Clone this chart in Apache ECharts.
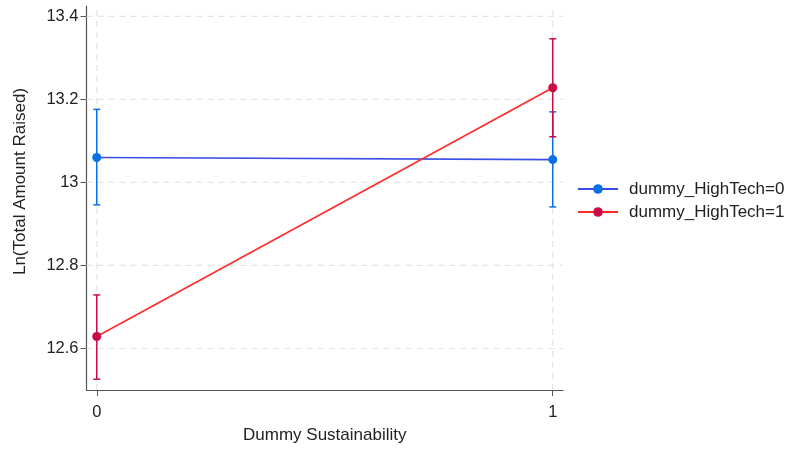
<!DOCTYPE html>
<html><head><meta charset="utf-8">
<script src="https://cdn.jsdelivr.net/npm/echarts@6/dist/echarts.min.js"></script>
<style>html,body{margin:0;padding:0;background:#fff}#c{width:792px;height:449px}</style>
</head><body><div id="c"></div>
<script>
const xValues = [0, 1];
const xTickLabels = ['0', '1'];
const yTicks = [12.6, 12.8, 13, 13.2, 13.4];
const seriesNames = ['dummy_HighTech=0', 'dummy_HighTech=1'];
const mean0 = [13.060, 13.055];
const low0 = [12.946, 12.941];
const high0 = [13.176, 13.170];
const mean1 = [12.629, 13.228];
const low1 = [12.526, 13.110];
const high1 = [12.729, 13.346];

const X_MIN = -0.0225, X_MAX = 1.0225, Y_MIN = 12.5, Y_MAX = 13.425;

const lineColors = ['#3b4fe6', '#ff2b2b'];
const markColors = ['#0b70e8', '#cc0a46'];
const font = 'Liberation Sans, Arial, sans-serif';

function ciSeries(low, high, color) {
  return {
    type: 'custom',
    silent: true,
    z: 3,
    data: xValues.map((x, i) => [x, low[i], high[i]]),
    renderItem: function (params, api) {
      const x = api.value(0);
      const pLo = api.coord([x, api.value(1)]);
      const pHi = api.coord([x, api.value(2)]);
      const w = 3.5;
      const st = { stroke: color, lineWidth: 1.5, fill: null };
      return {
        type: 'group',
        children: [
          { type: 'line', shape: { x1: pLo[0], y1: pLo[1], x2: pHi[0], y2: pHi[1] }, style: st },
          { type: 'line', shape: { x1: pLo[0] - w, y1: pLo[1], x2: pLo[0] + w, y2: pLo[1] }, style: st },
          { type: 'line', shape: { x1: pHi[0] - w, y1: pHi[1], x2: pHi[0] + w, y2: pHi[1] }, style: st }
        ]
      };
    }
  };
}

const gridStyle = { stroke: '#e4e4e4', lineWidth: 1.2, lineDash: [6, 5], fill: null };
const gridData = yTicks.map(v => ['h', v]).concat(xValues.map(v => ['v', v]));

const chart = echarts.init(document.getElementById('c'), null, { renderer: 'canvas' });
chart.setOption({
  animation: false,
  backgroundColor: '#fff',
  grid: { left: 86.5, right: 229, top: 6, bottom: 54, containLabel: false },
  xAxis: {
    type: 'value', min: X_MIN, max: X_MAX,
    name: 'Dummy Sustainability', nameLocation: 'middle', nameGap: 37,
    nameTextStyle: { fontFamily: font, fontSize: 17, color: '#222' },
    axisLine: { show: true, onZero: false, lineStyle: { color: '#555', width: 1.2 } },
    axisTick: { show: true, customValues: xValues, length: 6, lineStyle: { color: '#555' } },
    axisLabel: { customValues: xValues, formatter: v => xTickLabels[xValues.indexOf(v)] ?? '', fontFamily: font, fontSize: 16.5, color: '#222', margin: 14 },
    splitLine: { show: false }
  },
  yAxis: {
    type: 'value', min: Y_MIN, max: Y_MAX,
    name: 'Ln(Total Amount Raised)', nameLocation: 'middle', nameGap: 58, nameRotate: 90,
    nameTextStyle: { fontFamily: font, fontSize: 17, color: '#222', padding: [0, 0, 0, 33] },
    axisLine: { show: true, onZero: false, lineStyle: { color: '#555', width: 1.2 } },
    axisTick: { show: true, customValues: yTicks, length: 6, lineStyle: { color: '#555' } },
    axisLabel: { customValues: yTicks, formatter: v => String(v), fontFamily: font, fontSize: 16.5, color: '#222', margin: 8 },
    splitLine: { show: false }
  },
  legend: {
    orient: 'vertical', left: 572, top: 175.5, itemWidth: 40, itemHeight: 12, itemGap: 6,
    textStyle: { fontFamily: font, fontSize: 17, color: '#222', padding: [0, 0, 0, 6] },
    data: seriesNames
  },
  series: [
    {
      type: 'custom', silent: true, z: 1,
      data: gridData,
      dimensions: ['kind', 'val'],
      encode: { x: -1, y: -1 },
      renderItem: function (params, api) {
        const d = gridData[params.dataIndex];
        let p1, p2;
        if (d[0] === 'h') { p1 = api.coord([X_MIN, d[1]]); p2 = api.coord([X_MAX, d[1]]); }
        else { p1 = api.coord([d[1], Y_MIN]); p2 = api.coord([d[1], Y_MAX]); }
        return { type: 'line', shape: { x1: p1[0], y1: p1[1], x2: p2[0], y2: p2[1] }, style: gridStyle };
      }
    },
    ciSeries(low0, high0, markColors[0]),
    ciSeries(low1, high1, markColors[1]),
    {
      type: 'line', name: seriesNames[0], z: 4,
      data: xValues.map((x, i) => [x, mean0[i]]),
      symbol: 'circle', symbolSize: 9,
      lineStyle: { color: lineColors[0], width: 1.6 },
      itemStyle: { color: markColors[0] }
    },
    {
      type: 'line', name: seriesNames[1], z: 4,
      data: xValues.map((x, i) => [x, mean1[i]]),
      symbol: 'circle', symbolSize: 9,
      lineStyle: { color: lineColors[1], width: 1.6 },
      itemStyle: { color: markColors[1] }
    }
  ]
});
</script></body></html>
